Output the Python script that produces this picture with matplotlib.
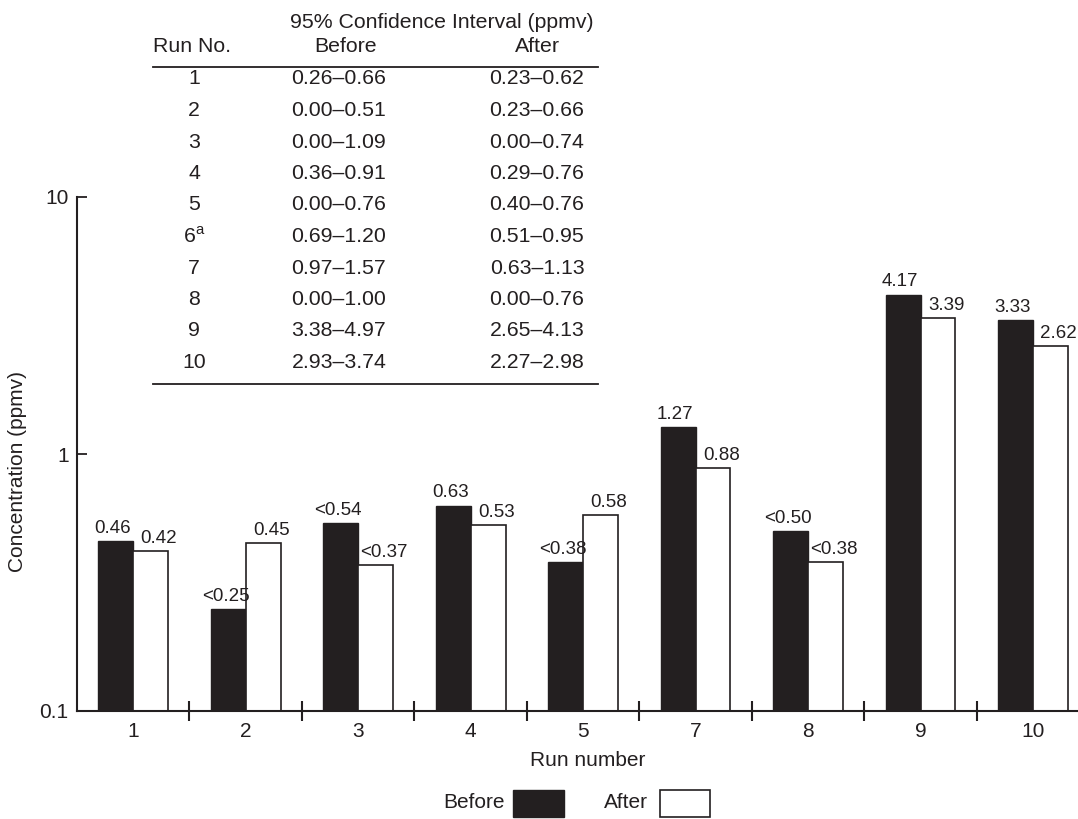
import matplotlib
matplotlib.use("Agg")
import matplotlib.pyplot as plt
from matplotlib.patches import Rectangle
from matplotlib.ticker import NullLocator, NullFormatter, FixedLocator

plt.rcParams['font.family'] = 'Liberation Sans'
plt.rcParams['mathtext.fontset'] = 'custom'
plt.rcParams['mathtext.rm'] = 'Liberation Sans'

INK = '#231f20'
W, H = 1078, 819

# bar chart data
runs = ['1', '2', '3', '4', '5', '7', '8', '9', '10']
before = [0.46, 0.25, 0.54, 0.63, 0.38, 1.27, 0.50, 4.17, 3.33]
after = [0.42, 0.45, 0.37, 0.53, 0.58, 0.88, 0.38, 3.39, 2.62]
before_lt = [False, True, True, False, True, False, True, False, False]
after_lt = [False, False, True, False, False, False, True, False, False]

# confidence interval table
table_runs = ['1', '2', '3', '4', '5', '6$^{\\mathrm{a}}$', '7', '8', '9', '10']
ci_before = ['0.26–0.66', '0.00–0.51', '0.00–1.09', '0.36–0.91', '0.00–0.76',
             '0.69–1.20', '0.97–1.57', '0.00–1.00', '3.38–4.97', '2.93–3.74']
ci_after = ['0.23–0.62', '0.23–0.66', '0.00–0.74', '0.29–0.76', '0.40–0.76',
            '0.51–0.95', '0.63–1.13', '0.00–0.76', '2.65–4.13', '2.27–2.98']


def fx(px):
    return px / W


def fy(py):
    return 1 - py / H


fig = plt.figure(figsize=(W / 100, H / 100), dpi=100)
ax = fig.add_axes([fx(77), fy(711), 1 - fx(77), (711 - 197) / H])

x = list(range(len(runs)))
bw = 0.31
xb = [i - bw / 2 for i in x]
xa = [i + bw / 2 for i in x]
ax.set_yscale('log')
ax.bar(xb, before, width=bw, color=INK, edgecolor=INK, linewidth=1.0)
ax.bar(xa, after, width=bw, color='white', edgecolor=INK, linewidth=1.2)

for xi, v, lt in zip(xb, before, before_lt):
    ax.annotate(('<' if lt else '') + f'{v:.2f}', (xi, v), xytext=(-2, 3),
                textcoords='offset points', ha='center', va='bottom',
                fontsize=13.5, color=INK)
for xi, v, lt in zip(xa, after, after_lt):
    ax.annotate(('<' if lt else '') + f'{v:.2f}', (xi, v), xytext=(6, 3),
                textcoords='offset points', ha='center', va='bottom',
                fontsize=13.5, color=INK)

ax.set_ylim(0.1, 10)
ax.set_xlim(-0.5, 8.4)
ax.set_yticks([0.1, 1, 10])
ax.set_yticklabels(['0.1', '1', '10'])
ax.yaxis.set_minor_locator(NullLocator())
ax.tick_params(axis='y', direction='in', length=7, width=1.3, pad=6,
               labelsize=15, colors=INK)

ax.xaxis.set_major_locator(FixedLocator([i + 0.5 for i in x[:-1]]))
ax.xaxis.set_major_formatter(NullFormatter())
ax.set_xticks(x, minor=True)
ax.set_xticklabels(runs, minor=True)
ax.tick_params(axis='x', which='major', direction='inout', length=15, width=1.5,
               colors=INK)
ax.tick_params(axis='x', which='minor', length=0, pad=8, labelsize=15,
               colors=INK)

for s in ['top', 'right']:
    ax.spines[s].set_visible(False)
for s in ['left', 'bottom']:
    ax.spines[s].set_linewidth(1.5)
    ax.spines[s].set_color(INK)

fig.text(fx(18), fy(471), 'Concentration (ppmv)', rotation=90, ha='center',
         va='center', fontsize=15, color=INK)
fig.text(fx(588), fy(760), 'Run number', ha='center', va='center',
         fontsize=15, color=INK)

# table in upper left
fig.text(fx(442), fy(22), '95% Confidence Interval (ppmv)', ha='center',
         va='center', fontsize=15.3, color=INK)
fig.text(fx(192), fy(46), 'Run No.', ha='center', va='center', fontsize=15.3,
         color=INK)
fig.text(fx(346), fy(46), 'Before', ha='center', va='center', fontsize=15.3,
         color=INK)
fig.text(fx(537), fy(46), 'After', ha='center', va='center', fontsize=15.3,
         color=INK)
row_y0, row_dy = 79, 31.5
for i, (r, b, a) in enumerate(zip(table_runs, ci_before, ci_after)):
    yy = fy(row_y0 + i * row_dy)
    fig.text(fx(194), yy, r, ha='center', va='center', fontsize=15.3, color=INK)
    fig.text(fx(339), yy, b, ha='center', va='center', fontsize=15.3, color=INK)
    fig.text(fx(537), yy, a, ha='center', va='center', fontsize=15.3, color=INK)
line_top = fy(67)
line_bot = fy(row_y0 + (len(table_runs) - 1) * row_dy + 21)
for yy in [line_top, line_bot]:
    fig.add_artist(plt.Line2D([fx(153), fx(598)], [yy, yy], color=INK, lw=1.3))

# legend below the axis
fig.text(fx(505), fy(803), 'Before', ha='right', va='center', fontsize=15,
         color=INK)
fig.add_artist(Rectangle((fx(513), fy(817)), fx(51), 27 / H, facecolor=INK,
                         edgecolor=INK, lw=1.0))
fig.text(fx(604), fy(803), 'After', ha='left', va='center', fontsize=15,
         color=INK)
fig.add_artist(Rectangle((fx(660), fy(817)), fx(50), 27 / H, facecolor='white',
                         edgecolor=INK, lw=1.2))

fig.savefig('out.png', dpi=100)
